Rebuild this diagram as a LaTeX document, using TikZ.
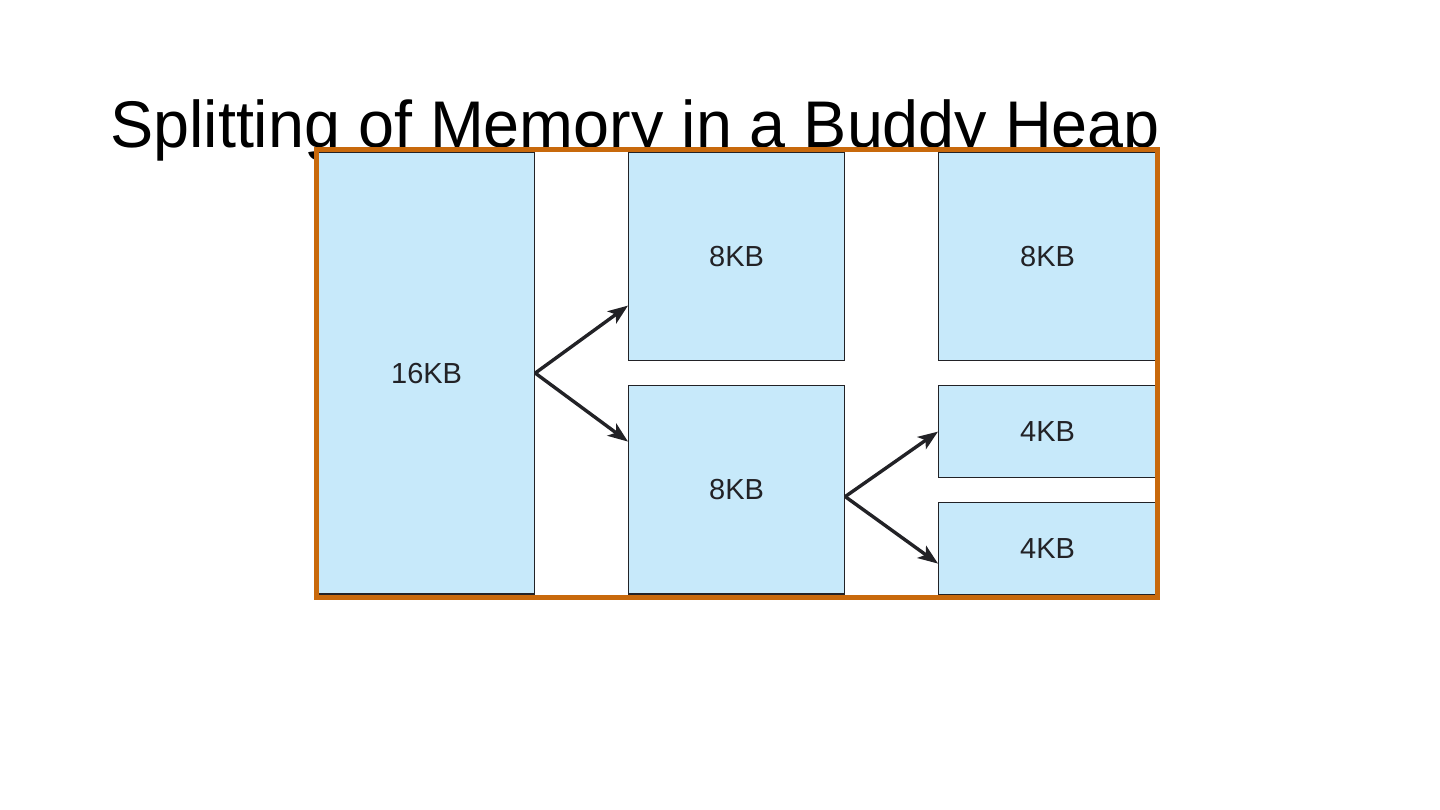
\documentclass[tikz,border=0pt]{standalone}
\usepackage{fontspec}
\setmainfont{Liberation Sans}
\usetikzlibrary{arrows.meta,positioning}
\definecolor{heapblue}{RGB}{199,233,250}
\definecolor{frameorange}{RGB}{200,105,12}
\definecolor{inkgray}{RGB}{34,34,38}

\begin{document}
\begin{tikzpicture}[x=1pt,y=-1pt,>={Stealth[length=20pt,width=15pt,inset=5pt]},
    block/.style={draw=inkgray,line width=1.2pt,fill=heapblue,anchor=north west,
      inner sep=0pt,text=inkgray,font=\fontsize{29}{34}\selectfont},
    split/.style={->,draw=inkgray,line width=3.4pt}]
  \useasboundingbox (0,0) rectangle (1440,810);
  \node[anchor=base west,inner sep=0pt,font=\fontsize{66}{74}\selectfont] (title) at (110,148)
    {\scalebox{0.98}[1]{Splitting of Memory in a Buddy Heap}};
  % blocks of the heap
  \node[block,minimum width=216pt,minimum height=441pt] (kb16) at (318,152) {16KB};
  \node[block,minimum width=216pt,minimum height=208pt] (kb8a) at (628,152) {8KB};
  \node[block,minimum width=216pt,minimum height=208pt] (kb8b) at (628,385) {8KB};
  \node[block,minimum width=218pt,minimum height=208pt] (kb8c) at (938,152) {8KB};
  \node[block,minimum width=218pt,minimum height=92pt] (kb4a) at (938,385) {4KB};
  \node[block,minimum width=218pt,minimum height=92pt] (kb4b) at (938,502) {4KB};
  \foreach \b in {kb16,kb8b,kb4b}
    \draw[inkgray,line width=2.6pt] (\b.south west) -- (\b.south east);
  % splitting arrows
  \draw[split] (kb16.east) -- ([yshift=-49pt]kb8a.west);
  \draw[split] (kb16.east) -- ([yshift=48pt]kb8b.west);
  \draw[split] ([yshift=-7pt]kb8b.east) -- (kb4a.west);
  \draw[split] ([yshift=-7pt]kb8b.east) -- ([yshift=-15pt]kb4b.west);
  % frame
  \draw[frameorange,line width=5pt] (316,150) rectangle (1157,597);
\end{tikzpicture}
\end{document}
